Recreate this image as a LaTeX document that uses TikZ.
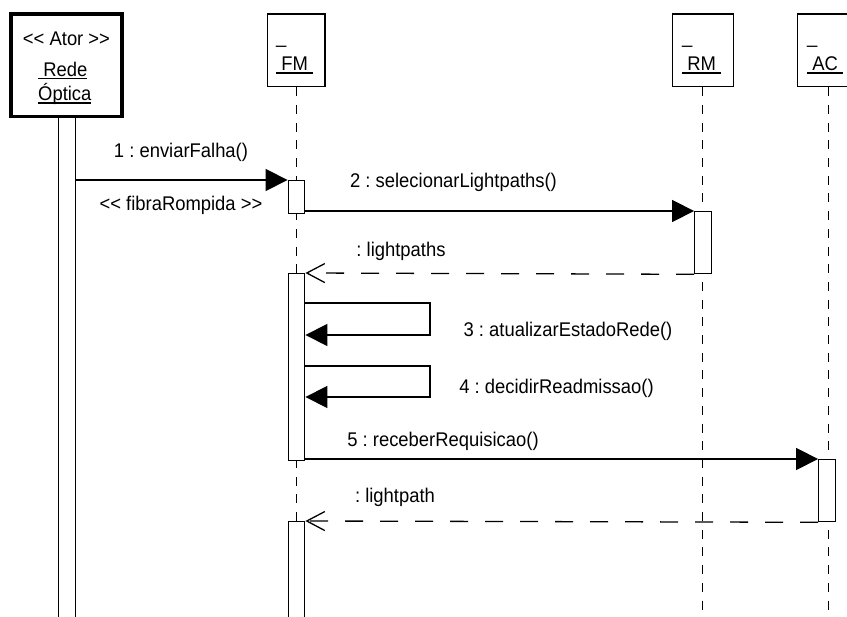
\documentclass[tikz,border=0pt]{standalone}
\usepackage{fontspec}
\setmainfont{Liberation Sans}[FakeStretch=0.93]
\usetikzlibrary{arrows.meta}
\frenchspacing

% underlined object name, rule drawn a little below the baseline
\newcommand\ulname[1]{\setbox0=\hbox{#1}\rlap{\rule[-2.6pt]{\wd0}{1.3pt}}\box0}

\tikzset{
  txt/.style={font=\fontsize{19.8}{22}\selectfont, inner sep=0pt},
  objbox/.style={draw, line width=1.3pt, fill=white, inner sep=0pt},
  actorbox/.style={draw, line width=3.7pt, fill=white, inner sep=0pt},
  actbar/.style={draw, line width=1.3pt, fill=white, inner sep=0pt, minimum width=16.5pt},
  lifeline/.style={line width=1.3pt, dash pattern=on 9pt off 8.7pt},
  callmsg/.style={line width=1.3pt, -{Triangle[length=22pt, width=22pt]}},
  replymsg/.style={line width=1.3pt, dash pattern=on 18pt off 17pt,
    -{Straight Barb[length=18pt, width=19pt, line width=1.3pt]}},
}

\begin{document}
\begin{tikzpicture}[x=1pt, y=-1pt]
  \useasboundingbox (0,0) rectangle (847,617);
  \clip (0,0) rectangle (847,617);

  % object heads
  \node[actorbox, minimum width=111pt, minimum height=102.7pt] (actor) at (66.5,65.3) {};
  \node[objbox, minimum width=57.7pt, minimum height=72.7pt] (fm) at (296.2,50.3) {};
  \node[objbox, minimum width=61pt, minimum height=72.7pt] (rm) at (702.8,50.3) {};
  \node[objbox, minimum width=61pt, minimum height=72.7pt] (ac) at (828.2,50.3) {};

  % head texts
  \node[txt, anchor=base] (actorst) at (66.5,46) {<{}< Ator >{}>};
  \node[txt, anchor=base west] (actorn1) at (38,76.5) {\ulname{\ Rede}};
  \node[txt, anchor=base west] (actorn2) at (38,101) {\ulname{Óptica}};
  \node[txt, anchor=base west] (fmu) at (276,43.5) {\_};
  \node[txt, anchor=base west] (fmn) at (276,71) {\ulname{\ FM\ }};
  \node[txt, anchor=base west] (rmu) at (682,43.5) {\_};
  \node[txt, anchor=base west] (rmn) at (682,71) {\ulname{\ RM\ }};
  \node[txt, anchor=base west] (acu) at (807,43.5) {\_};
  \node[txt, anchor=base west] (acn) at (807,71) {\ulname{\ AC\ }};

  % lifelines
  \draw[lifeline] (fm.south) -- (fm.south |- 0,620);
  \draw[lifeline] (rm.south) -- (rm.south |- 0,620);
  \draw[lifeline] (ac.south) -- (ac.south |- 0,620);

  % activation bars
  \node[actbar, anchor=north, minimum height=510pt] (actorbar) at (67,116.7) {};
  \node[actbar, anchor=north, minimum height=33pt] (fma) at (296.5,180) {};
  \node[actbar, anchor=north, minimum height=187pt] (fmb) at (296.5,273) {};
  \node[actbar, anchor=north, minimum height=110pt] (fmc) at (296.5,521) {};
  \node[actbar, anchor=north, minimum height=62pt] (rma) at (703,211) {};
  \node[actbar, anchor=north, minimum height=62pt] (aca) at (827,459) {};

  % messages
  \draw[callmsg] (actorbar.east |- fma.north west) -- (fma.north west);
  \draw[callmsg] (fma.east |- rma.north west) -- (rma.north west);
  \draw[replymsg] (rma.south west) -- (fmb.north east);
  \coordinate (s3a) at (fmb.east |- 0,303);
  \coordinate (s3b) at (fmb.east |- 0,335);
  \draw[line width=1.3pt, -{Triangle[length=22pt, width=22pt]}]
    (s3a) -- (430,303) -- (430,335) -- (s3b);
  \coordinate (s4a) at (fmb.east |- 0,366);
  \coordinate (s4b) at (fmb.east |- 0,397);
  \draw[line width=1.3pt, -{Triangle[length=22pt, width=22pt]}]
    (s4a) -- (430,366) -- (430,397) -- (s4b);
  \draw[callmsg] (fmb.east |- aca.north west) -- (aca.north west);
  \draw[replymsg] (aca.south west) -- (fmc.north east);

  % message labels
  \node[txt, anchor=base] (l1) at (181,158) {1 : enviarFalha()};
  \node[txt, anchor=base] (l1s) at (181,211) {<{}< fibraRompida >{}>};
  \node[txt, anchor=base] (l2) at (453.5,188) {2 : selecionarLightpaths()};
  \node[txt, anchor=base] (r2) at (401,257) {: lightpaths};
  \node[txt, anchor=base] (l3) at (568,337) {3 : atualizarEstadoRede()};
  \node[txt, anchor=base] (l4) at (556.5,394) {4 : decidirReadmissao()};
  \node[txt, anchor=base] (l5) at (443,447) {5 : receberRequisicao()};
  \node[txt, anchor=base] (r5) at (395,503) {: lightpath};
\end{tikzpicture}
\end{document}
